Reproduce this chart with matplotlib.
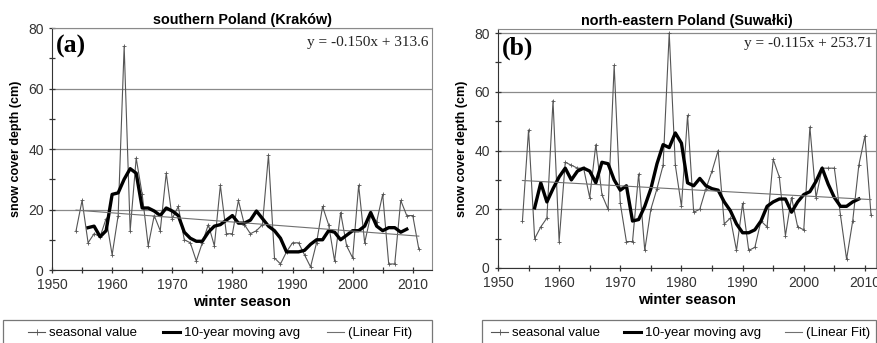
import matplotlib
matplotlib.use("Agg")
import matplotlib.pyplot as plt
from matplotlib.lines import Line2D
from matplotlib.patches import Rectangle
from matplotlib.ticker import MultipleLocator

plt.rcParams["font.family"] = ["Liberation Sans", "DejaVu Sans"]

years = list(range(1954, 2012))
ma_years = list(range(1956, 2010))

# (a) southern Poland (Kraków)
krakow = [13, 23, 9, 12, 11, 17, 5, 18, 74, 13, 37, 25, 8, 18, 13, 32,
          17, 21, 10, 9, 3, 9, 15, 8, 28, 12, 12, 23, 15, 12, 13, 15,
          38, 4, 2, 6, 9, 9, 5, 1, 9, 21, 15, 3, 19, 8, 4, 28,
          9, 18, 16, 25, 2, 2, 23, 18, 18, 7]
krakow_ma = [14, 14.5, 11, 13, 25, 25.5, 30, 33.5, 32, 20.5, 20.5, 19.5, 18, 20.5,
             19.5, 18, 12.5, 10.5, 9.5, 9.5, 12.5, 14.5, 15, 16.5, 18, 15.5, 15.5,
             16.5, 19.5, 17, 14.5, 13, 10.5, 6, 6, 6, 6.5, 8.5, 10, 10, 13, 12.5,
             10, 11.5, 13, 13, 14.5, 19, 14.5, 13, 14, 14, 12.5, 13.5]
krakow_fit = [19.8, 11.2]

# (b) north-eastern Poland (Suwałki)
suwalki = [16, 47, 10, 14, 17, 57, 9, 36, 35, 34, 34, 24, 42, 25, 20, 69,
           22, 9, 9, 32, 6, 20, 27, 35, 80, 35, 21, 52, 19, 20, 27, 33,
           40, 15, 17, 6, 22, 6, 7, 16, 14, 37, 31, 11, 24, 14, 13, 48,
           24, 34, 34, 34, 18, 3, 16, 35, 45, 18]
suwalki_ma = [20.5, 29, 22.5, 27, 31, 34, 30, 33, 34, 33, 29, 36, 35.5, 30,
              26.5, 28, 16, 16.5, 21, 27, 35.5, 42, 41, 46, 42.5, 29, 28, 30.5,
              28, 27, 26.5, 22.5, 19.5, 15, 12, 12, 13, 16, 21, 22.5, 23.5, 23.5,
              19, 22.5, 25, 26, 29.5, 34, 28.5, 24, 21, 21, 22.5, 23.5]
suwalki_fit = [29.8, 23.3]

W, H = 877, 343
fig = plt.figure(figsize=(W / 100, H / 100), dpi=100)

panels = [
    dict(rect=[0.0593, 0.2128, 0.4333, 0.7055], xlim=(1950, 2013.2), ylim=(0, 80),
         vals=krakow, ma=krakow_ma, fit=krakow_fit, letter="(a)",
         eq="y = -0.150x + 313.6", title="southern Poland (Kraków)",
         box=(3, 432), leg=(28, 412)),
    dict(rect=[0.5678, 0.2187, 0.4310, 0.6968], xlim=(1950, 2011.8), ylim=(0, 81.4),
         vals=suwalki, ma=suwalki_ma, fit=suwalki_fit, letter="(b)",
         eq="y = -0.115x + 253.71", title="north-eastern Poland (Suwałki)",
         box=(482, 876), leg=(491, 870)),
]

for p in panels:
    ax = fig.add_axes(p["rect"])
    ax.set_xlim(*p["xlim"])
    ax.set_ylim(*p["ylim"])

    ax.yaxis.set_major_locator(MultipleLocator(20))
    ax.yaxis.set_minor_locator(MultipleLocator(10))
    ax.xaxis.set_major_locator(MultipleLocator(10))
    ax.xaxis.set_minor_locator(MultipleLocator(5))
    ax.grid(axis="y", which="major", color="#8a8a8a", lw=0.9)
    ax.set_axisbelow(True)

    ax.plot(years, p["vals"], color="#555555", lw=0.8, marker="+", ms=3.5, mew=0.6)
    ax.plot(ma_years, p["ma"], color="black", lw=2.4)
    ax.plot([years[0], years[-1]], p["fit"], color="#707070", lw=0.8)

    for side in ["top", "right"]:
        ax.spines[side].set_color("#8a8a8a")
    for side in ["left", "bottom"]:
        ax.spines[side].set_color("#333333")
    ax.tick_params(which="both", direction="inout", colors="#333333", labelsize=10,
                   labelcolor="#333333")
    ax.tick_params(which="major", length=5, width=0.9)
    ax.tick_params(which="minor", length=4, width=0.9)

    ax.text(0.01, 0.97, p["letter"], transform=ax.transAxes, ha="left", va="top",
            fontsize=18.5, fontweight="bold", family=["Liberation Serif", "DejaVu Serif"])
    ax.text(0.99, 0.965, p["eq"], transform=ax.transAxes, ha="right", va="top",
            fontsize=11, color="#222222", family=["Liberation Serif", "DejaVu Serif"])
    ax.set_title(p["title"], fontsize=10.4, fontweight="bold", pad=3)
    ax.set_xlabel("winter season", fontsize=10.5, fontweight="bold", labelpad=2)
    ax.set_ylabel("snow cover depth (cm)", fontsize=9, fontweight="bold", labelpad=4)

    # legend box below each panel, cut by the lower figure edge
    bx0, bx1 = p["box"]
    fig.add_artist(Rectangle((bx0 / W, -0.05), (bx1 - bx0) / W, 0.05 + (H - 320) / H,
                             transform=fig.transFigure, fill=False,
                             edgecolor="#777777", lw=0.9))
    handles = [
        Line2D([], [], color="#555555", lw=0.8, marker="+", ms=4, mew=0.6),
        Line2D([], [], color="black", lw=2.2),
        Line2D([], [], color="#707070", lw=0.8),
    ]
    labels = ["seasonal value", "10-year moving avg", "(Linear Fit)"]
    lx0, lx1 = p["leg"]
    fig.legend(handles, labels, loc="center left",
               bbox_to_anchor=(lx0 / W, 1 - 333 / H, (lx1 - lx0) / W, 0),
               mode="expand", ncol=3, fontsize=9.5, frameon=False,
               handlelength=1.3, handletextpad=0.3, borderpad=0, borderaxespad=0)

fig.savefig("out.png", dpi=100)
